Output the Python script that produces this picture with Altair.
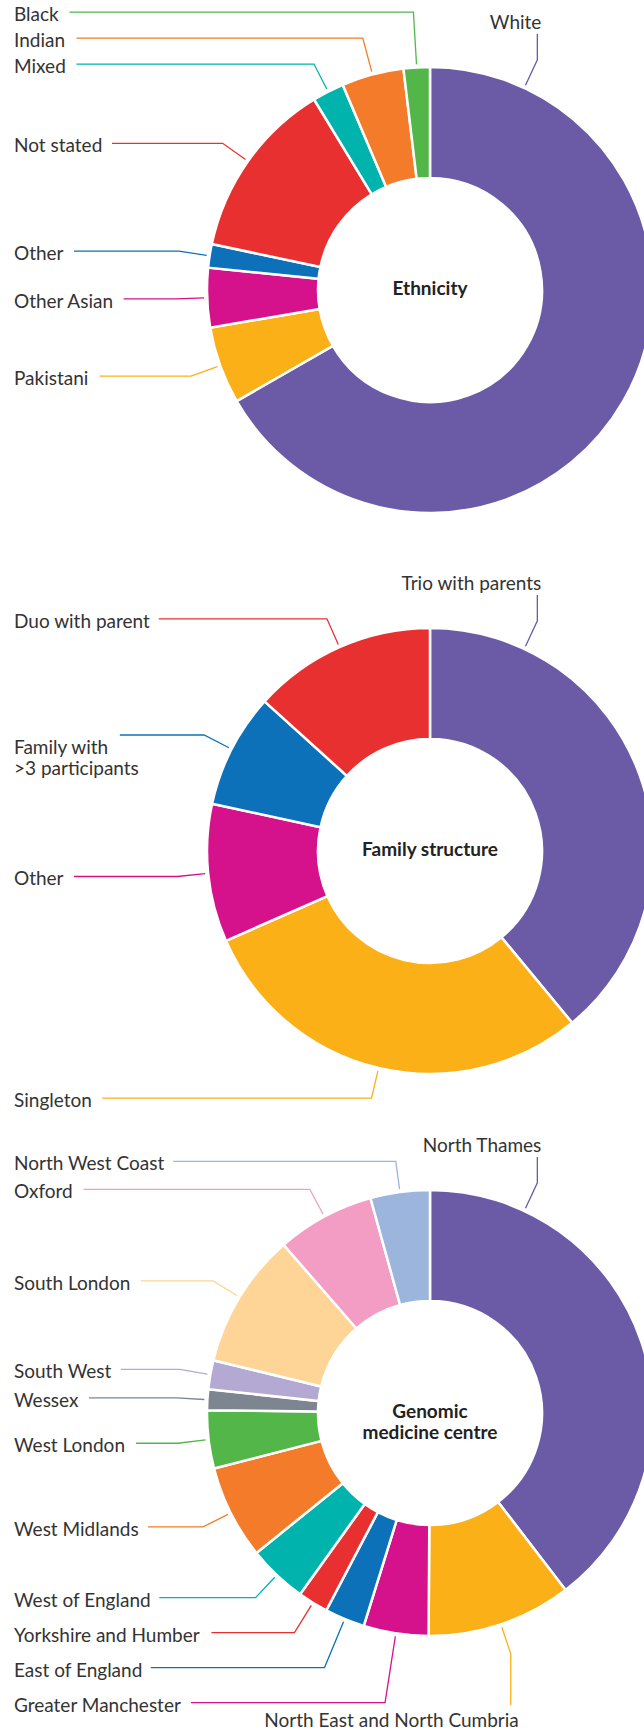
import math
import altair as alt
import pandas as pd

# ---------------- data (percent of participants) ----------------
ETH_TITLE = "Ethnicity"
ETH_CATS = ["White", "Pakistani", "Other Asian", "Other", "Not stated", "Mixed", "Indian", "Black"]
ETH_VALS = [66.7, 5.6, 4.3, 1.7, 13.0, 2.3, 4.5, 1.9]

FAM_TITLE = "Family structure"
FAM_CATS = ["Trio with parents", "Singleton", "Other", "Family with\n>3 participants", "Duo with parent"]
FAM_VALS = [39.0, 29.4, 10.0, 8.3, 13.3]

GMC_TITLE = "Genomic\nmedicine centre"
GMC_CATS = ["North Thames", "North East and North Cumbria", "Greater Manchester", "East of England",
            "Yorkshire and Humber", "West of England", "West Midlands", "West London", "Wessex",
            "South West", "South London", "Oxford", "North West Coast"]
GMC_VALS = [39.6, 10.5, 4.7, 2.9, 2.2, 4.3, 6.8, 4.2, 1.5, 2.1, 9.8, 7.1, 4.3]

PALETTE = ["#6b5aa6", "#fbb018", "#d5128b", "#0c71b8", "#e83030", "#00b3ad", "#f47b2a",
           "#52b748", "#7d8591", "#b3a9d2", "#fed596", "#f39cc4", "#9bb5dd"]

# ---------------- layout / style ----------------
W, H = 644, 1730
CX = 430
CENTERS_Y = [290, 851, 1413]
R_OUT, R_IN = 223, 112
R_ANCHOR = 226
R_ELBOW = 254
FIRST_ANGLE = 25
LABEL_X = 14
FONT = "Lato"
LABEL_FS = 19
LINE_H = 20.5
TEXT_DY = 3
GAP_UP, GAP_DOWN = 26, 35
TEXT_PAD = 11
TOP_LINE_END, TOP_TEXT, TOP_DX = -256, -267, 4
BOT_LINE_END, BOT_TEXT, BOT_DX = 292, 308, 8
TEXT_COLOR = "#333333"

CHAR_W = {'a': .51, 'b': .56, 'c': .46, 'd': .56, 'e': .52, 'f': .32, 'g': .51, 'h': .56, 'i': .24,
          'j': .24, 'k': .5, 'l': .24, 'm': .84, 'n': .56, 'o': .56, 'p': .55, 'q': .56, 'r': .37,
          's': .42, 't': .35, 'u': .56, 'v': .5, 'w': .77, 'x': .49, 'y': .5, 'z': .45,
          'A': .68, 'B': .63, 'C': .67, 'D': .74, 'E': .56, 'F': .54, 'G': .72, 'H': .76, 'I': .28,
          'M': .9, 'N': .76, 'O': .78, 'P': .6, 'S': .52, 'T': .58, 'W': 1.0, 'Y': .63,
          ' ': .2, '>': .58, '3': .58}


def text_w(s):
    first = s.split("\n")[0]
    return sum(CHAR_W.get(ch, 0.55) for ch in first) * LABEL_FS


def build(panel, cats, vals, cy):
    total = sum(vals)
    cum = 0.0
    slices, lines, left_lab, right_lab = [], [], [], []
    info = []
    for i, (c, v) in enumerate(zip(cats, vals)):
        a0 = cum / total * 360
        cum += v
        a1 = cum / total * 360
        info.append(dict(i=i, cat=c, mid=(a0 + a1) / 2, color=PALETTE[i]))
        slices.append(dict(idx=i, cat=c, value=v, color=PALETTE[i]))
    left = []
    for d in info:
        if d["i"] == 0 or d["mid"] < 180:
            ang = min(d["mid"], FIRST_ANGLE) if d["i"] == 0 else d["mid"]
            t = math.radians(ang)
            ax, ay = CX + R_ANCHOR * math.sin(t), cy - R_ANCHOR * math.cos(t)
            ex, ey = CX + R_ELBOW * math.sin(t), cy - R_ELBOW * math.cos(t)
            if ey < cy:
                end_y, ty, tdx = cy + TOP_LINE_END, cy + TOP_TEXT, TOP_DX
            else:
                end_y, ty, tdx = cy + BOT_LINE_END, cy + BOT_TEXT, BOT_DX
            key = f"{panel}-{d['i']}"
            for k, (px, py) in enumerate([(ax, ay), (ex, ey), (ex, end_y)]):
                lines.append(dict(key=key, ord=k, px=px, py=py, color=d["color"]))
            right_lab.append(dict(px=ex + tdx, py=ty, text=d["cat"]))
        else:
            t = math.radians(d["mid"])
            d["ny"] = cy - R_ELBOW * math.cos(t)
            left.append(d)
    upper = sorted([d for d in left if d["ny"] < cy], key=lambda d: -d["ny"])
    prev = None
    for d in upper:
        d["ly"] = d["ny"] if prev is None else min(d["ny"], prev - GAP_UP)
        prev = d["ly"]
    lower = sorted([d for d in left if d["ny"] >= cy], key=lambda d: d["ny"])
    prev = None
    for d in lower:
        d["ly"] = d["ny"] if prev is None else max(d["ny"], prev + GAP_DOWN)
        prev = d["ly"]
    for d in left:
        t = math.radians(d["mid"])
        ax, ay = CX + R_ANCHOR * math.sin(t), cy - R_ANCHOR * math.cos(t)
        ly = d["ly"]
        if abs(ly - d["ny"]) > 0.01:
            rho = (cy - ly) / math.cos(t)
        else:
            rho = R_ELBOW
        ex = CX + rho * math.sin(t)
        sx = LABEL_X + text_w(d["cat"]) + TEXT_PAD
        key = f"{panel}-{d['i']}"
        for k, (px, py) in enumerate([(sx, ly), (ex, ly), (ax, ay)]):
            lines.append(dict(key=key, ord=k, px=px, py=py, color=d["color"]))
        n = d["cat"].count("\n") + 1
        left_lab.append(dict(px=LABEL_X, py=ly + TEXT_DY + (n - 1) * LINE_H / 2, text=d["cat"]))
    return pd.DataFrame(slices), lines, left_lab, right_lab


panels = [(ETH_TITLE, ETH_CATS, ETH_VALS), (FAM_TITLE, FAM_CATS, FAM_VALS), (GMC_TITLE, GMC_CATS, GMC_VALS)]

xs = alt.Scale(domain=[0, W], range=[0, W])
ys = alt.Scale(domain=[0, H], range=[0, H])

layers = []
all_lines, all_left, all_right, titles = [], [], [], []
for p, (title, cats, vals) in enumerate(panels):
    cy = CENTERS_Y[p]
    sdf, ln, ll, rl = build(p, cats, vals, cy)
    all_lines += ln
    all_left += ll
    all_right += rl
    titles.append(dict(px=CX, py=cy - 1, text=title))
    arc = alt.Chart(sdf).mark_arc(radius=R_OUT, radius2=R_IN, stroke="white", strokeWidth=2.5).encode(
        theta=alt.Theta("value:Q", stack=True, scale=alt.Scale(domain=[0, sum(vals)])),
        color=alt.Color("color:N", scale=None, legend=None),
        order=alt.Order("idx:Q"),
        x=alt.value(CX),
        y=alt.value(cy),
    )
    layers.append(arc)

lines_chart = alt.Chart(pd.DataFrame(all_lines)).mark_line(strokeWidth=1.3).encode(
    x=alt.X("px:Q", scale=xs, axis=None),
    y=alt.Y("py:Q", scale=ys, axis=None),
    detail="key:N",
    order="ord:Q",
    color=alt.Color("color:N", scale=None, legend=None),
)

left_chart = alt.Chart(pd.DataFrame(all_left)).mark_text(
    align="left", baseline="middle", font=FONT, fontSize=LABEL_FS, color=TEXT_COLOR,
    lineBreak="\n", lineHeight=LINE_H,
).encode(x=alt.X("px:Q", scale=xs, axis=None), y=alt.Y("py:Q", scale=ys, axis=None), text="text:N")

right_chart = alt.Chart(pd.DataFrame(all_right)).mark_text(
    align="right", baseline="middle", font=FONT, fontSize=LABEL_FS, color=TEXT_COLOR,
).encode(x=alt.X("px:Q", scale=xs, axis=None), y=alt.Y("py:Q", scale=ys, axis=None), text="text:N")

title_chart = alt.Chart(pd.DataFrame(titles)).mark_text(
    align="center", baseline="middle", font=FONT, fontSize=19, fontWeight="bold", color="#222222",
    lineBreak="\n", lineHeight=21,
).encode(x=alt.X("px:Q", scale=xs, axis=None), y=alt.Y("py:Q", scale=ys, axis=None), text="text:N")

chart = alt.layer(*layers, lines_chart, left_chart, right_chart, title_chart).resolve_scale(
    theta="independent"
).properties(
    width=W, height=H, padding=0, autosize=alt.AutoSizeParams(type="none")
).configure_view(stroke=None)

chart.save("out.html", embed_options={"renderer": "svg", "actions": False})
